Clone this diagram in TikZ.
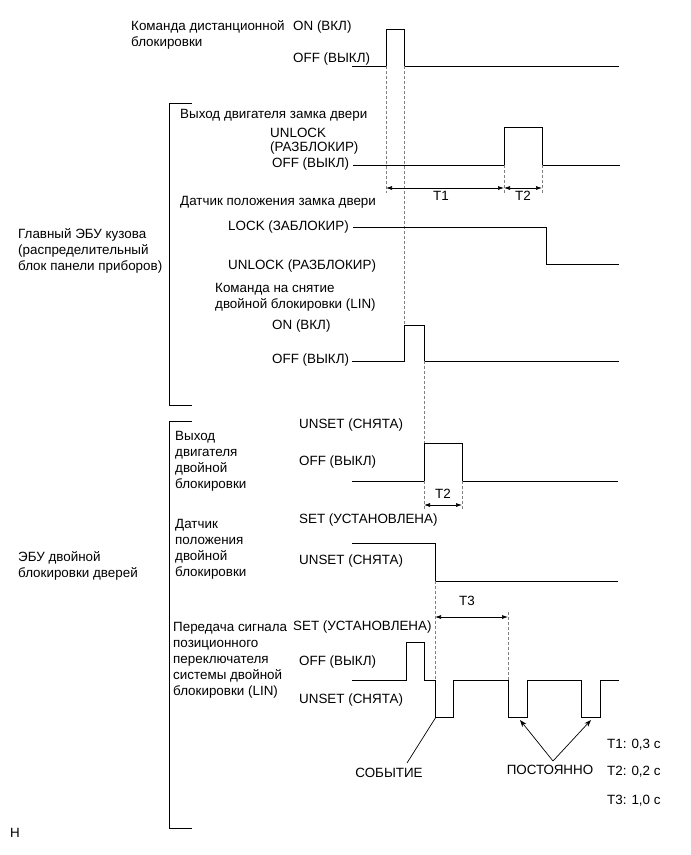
\documentclass[tikz,border=0pt]{standalone}
\usepackage{fontspec}
\setmainfont{Liberation Sans}
\usetikzlibrary{arrows.meta}
\begin{document}
\begin{tikzpicture}[x=1pt,y=-1pt,
  lbl/.style={inner sep=0pt,anchor=west,align=left,font=\fontsize{13.4}{16}\selectfont},
  sig/.style={line width=1pt,line join=miter},
  brk/.style={line width=1pt},
  guide/.style={gray,line width=0.6pt,dash pattern=on 3pt off 2pt},
  dim/.style={line width=0.7pt,{Latex[length=6pt,width=4pt]}-{Latex[length=6pt,width=4pt]}},
  ptr/.style={line width=0.7pt,-{Stealth[length=7pt,width=5pt]}}]
\useasboundingbox[fill=white] (0,0) rectangle (691,855);

% ---------- remote lock command ----------
\node[lbl] (cmdlbl) at (131,35) {Команда дистанционной\\блокировки};
\node[lbl] (on1) at (293,27) {ON (ВКЛ)};
\node[lbl] (off1) at (293,59) {OFF (ВЫКЛ)};
\draw[sig] (352,66) -- (386,66) -- (386,29) -- (404,29) -- (404,66) -- (619,66);

% ---------- bracket 1 ----------
\draw[brk] (192,103) -- (169,103) -- (169,405) -- (192,405);
\node[lbl] (mainecu) at (18,251) {Главный ЭБУ кузова\\(распределительный\\блок панели приборов)};

% door lock motor output
\node[lbl] (dlm) at (180,115) {Выход двигателя замка двери};
\node[lbl] (unl1) at (270,133) {UNLOCK};
\node[lbl] (unl1b) at (270,148) {(РАЗБЛОКИР)};
\node[lbl] (off2) at (272,164) {OFF (ВЫКЛ)};
\draw[sig] (353,165) -- (504,165) -- (504,127) -- (542,127) -- (542,165) -- (620,165);

\draw[guide] (386,66) -- (386,193);
\draw[guide] (404,66) -- (404,325);
\draw[guide] (504,165) -- (504,193);
\draw[guide] (542,165) -- (542,193);
\draw[dim] (386,188) -- (504,188);
\draw[dim] (504,188) -- (542,188);
\node[lbl,anchor=center] (t1) at (441,196) {T1};
\node[lbl,anchor=center] (t2a) at (523,196) {T2};

% door lock position sensor
\node[lbl] (dls) at (180,202) {Датчик положения замка двери};
\node[lbl] (lock) at (228,227) {LOCK (ЗАБЛОКИР)};
\node[lbl] (unl2) at (228,266) {UNLOCK (РАЗБЛОКИР)};
\draw[sig] (353,227) -- (546,227) -- (546,264) -- (619,264);

% double lock release command
\node[lbl] (dlr) at (215,297) {Команда на снятие\\двойной блокировки (LIN)};
\node[lbl] (on2) at (272,326) {ON (ВКЛ)};
\node[lbl] (off3) at (272,360) {OFF (ВЫКЛ)};
\draw[sig] (352,361) -- (404,361) -- (404,325) -- (424,325) -- (424,361) -- (619,361);
\draw[guide] (424,361) -- (424,443);

% ---------- bracket 2 ----------
\draw[brk] (192,421) -- (169,421) -- (169,828) -- (192,828);
\node[lbl] (dlecu) at (18,566) {ЭБУ двойной\\блокировки дверей};

% double lock motor output
\node[lbl] (dmo) at (175,461) {Выход\\двигателя\\двойной\\блокировки};
\node[lbl] (uns1) at (299,425) {UNSET (СНЯТА)};
\node[lbl] (off4) at (299,462) {OFF (ВЫКЛ)};
\draw[sig] (352,481) -- (424,481) -- (424,443) -- (462,443) -- (462,481) -- (618,481);
\draw[guide] (424,481) -- (424,510);
\draw[guide] (462,481) -- (462,510);
\draw[dim] (424,505) -- (462,505);
\node[lbl,anchor=center] (t2b) at (443,494) {T2};

% double lock position sensor
\node[lbl] (dps) at (175,549) {Датчик\\положения\\двойной\\блокировки};
\node[lbl] (set1) at (299,520) {SET (УСТАНОВЛЕНА)};
\node[lbl] (uns2) at (299,561) {UNSET (СНЯТА)};
\draw[sig] (352,543) -- (435,543) -- (435,581) -- (618,581);
\draw[guide] (435,581) -- (435,717);
\draw[guide] (508,612) -- (508,680);
\draw[dim] (435,617) -- (508,617);
\node[lbl,anchor=center] (t3) at (467,601) {T3};

% double lock position switch signal (LIN)
\node[lbl] (psw) at (173,660) {Передача сигнала\\позиционного\\переключателя\\системы двойной\\блокировки (LIN)};
\node[lbl] (set2) at (293,627) {SET (УСТАНОВЛЕНА)};
\node[lbl] (off5) at (299,662) {OFF (ВЫКЛ)};
\node[lbl] (uns3) at (299,700) {UNSET (СНЯТА)};
\draw[sig] (352,680) -- (406,680) -- (406,642) -- (424,642) -- (424,680) -- (435,680)
  -- (435,717) -- (453,717) -- (453,680) -- (508,680) -- (508,717) -- (527,717)
  -- (527,680) -- (581,680) -- (581,717) -- (600,717) -- (600,680) -- (619,680);

% event / constant labels
\node[lbl,anchor=center] (event) at (389,773) {СОБЫТИЕ};
\coordinate (evtip) at (436,717);
\coordinate (evfoot) at (407,763);
\draw[line width=0.7pt] (evfoot) -- (evtip);
\node[lbl,anchor=center] (const) at (550,770) {ПОСТОЯННО};
\coordinate (apex) at (553,761);
\coordinate (c1) at (520,720);
\coordinate (c2) at (591,720);
\draw[ptr] (apex) -- (c1);
\draw[ptr] (apex) -- (c2);

% legend
\node[lbl] (lg1) at (607,745) {T1: 0,3 c};
\node[lbl] (lg2) at (607,772) {T2: 0,2 c};
\node[lbl] (lg3) at (607,801) {T3: 1,0 c};

\node[lbl] (hmark) at (10,833) {H};
\end{tikzpicture}
\end{document}
